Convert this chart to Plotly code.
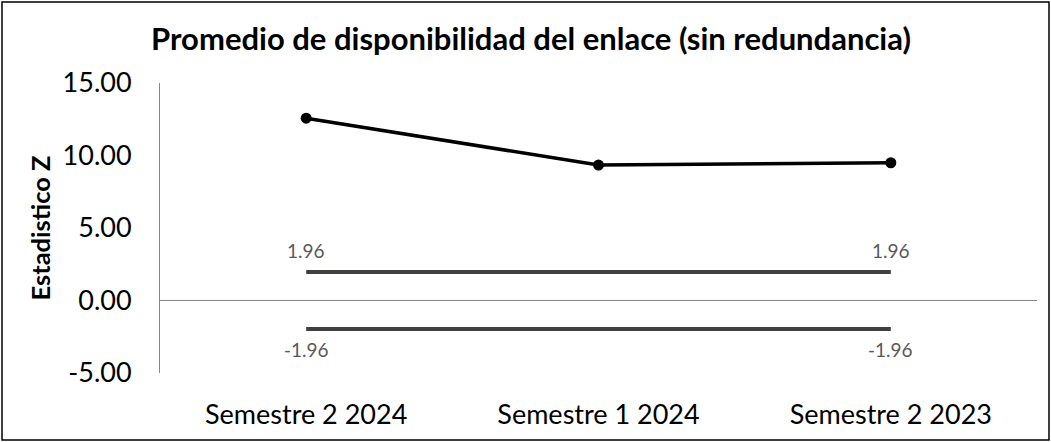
import plotly.graph_objects as go

# Chart data
categories = ["Semestre 2 2024", "Semestre 1 2024", "Semestre 2 2023"]
z_values = [12.57, 9.34, 9.50]
upper_limit = [1.96, 1.96, 1.96]
lower_limit = [-1.96, -1.96, -1.96]
y_ticks = [-5, 0, 5, 10, 15]
y_tick_labels = ["-5.00", "0.00", "5.00", "10.00", "15.00"]

FONT = "Lato, Noto Sans, sans-serif"
LIMIT_COLOR = "#404040"
LABEL_COLOR = "#595959"
AXIS_COLOR = "#868686"

fig = go.Figure()

for limit in (upper_limit, lower_limit):
    fig.add_trace(go.Scatter(
        x=categories, y=limit, mode="lines",
        line=dict(color=LIMIT_COLOR, width=4),
        hoverinfo="skip",
    ))

fig.add_trace(go.Scatter(
    x=categories, y=z_values, mode="lines+markers",
    line=dict(color="#000000", width=3.5),
    marker=dict(color="#000000", size=11),
))

# value labels at both ends of each limit line
annotations = []
for limit, shift in ((upper_limit, 22), (lower_limit, -21)):
    for i in (0, len(limit) - 1):
        annotations.append(dict(
            x=categories[i], y=limit[i], xref="x", yref="y",
            text=f"{limit[i]:.2f}", showarrow=False, yshift=shift,
            font=dict(family=FONT, size=19, color=LABEL_COLOR),
        ))

# plot area: x 160..1037, y 83..373
L, R, T, B = 160, 14, 83, 69
W, H = 1051, 442
pw, ph = W - L - R, H - T - B


def px_to_paper_x(px):
    return (px - L) / pw


def px_to_paper_y(py):
    return (H - B - py) / ph


fig.update_layout(
    width=W, height=H,
    margin=dict(l=L, r=R, t=T, b=B, autoexpand=False),
    paper_bgcolor="white", plot_bgcolor="white",
    showlegend=False,
    font=dict(family=FONT, color="#000000"),
    title=dict(
        text="<b>Promedio de disponibilidad del enlace (sin redundancia)</b>",
        x=px_to_paper_x(531), xanchor="center", xref="paper",
        y=1 - 39 / H, yanchor="middle",
        font=dict(family=FONT, size=31, color="#000000"),
    ),
    xaxis=dict(
        type="category", range=[-0.5, 2.5], automargin=False,
        showgrid=False, showline=False, zeroline=False,
        ticks="", ticklabelstandoff=23,
        tickfont=dict(family=FONT, size=27, color="#000000"),
    ),
    yaxis=dict(
        range=[-5, 15], tickvals=y_ticks, ticktext=y_tick_labels,
        automargin=False,
        showgrid=False, showline=True, linecolor=AXIS_COLOR, linewidth=1,
        zeroline=True, zerolinecolor=AXIS_COLOR, zerolinewidth=1,
        ticks="", ticklabelstandoff=22,
        tickfont=dict(family=FONT, size=27, color="#000000"),
        title=dict(text="<b>Estadistico Z</b>", standoff=4,
                   font=dict(family=FONT, size=25.5, color="#000000")),
    ),
    annotations=annotations,
    shapes=[dict(
        type="rect", xref="paper", yref="paper",
        x0=px_to_paper_x(2), x1=px_to_paper_x(1049),
        y0=px_to_paper_y(440), y1=px_to_paper_y(2),
        line=dict(color="#000000", width=1.5), fillcolor="rgba(0,0,0,0)",
        layer="below",
    )],
)

fig.write_html("out.html")
